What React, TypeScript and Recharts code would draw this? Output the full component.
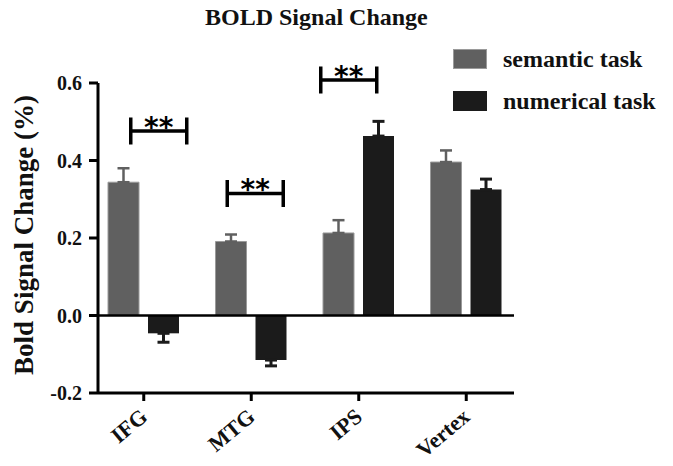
import React from "react";
import { BarChart, Bar, XAxis, YAxis, ErrorBar, ReferenceLine, ReferenceDot, Label } from "recharts";

// values (% BOLD change, mean and one-sided SE)
const regions = ["IFG", "MTG", "IPS", "Vertex"];
const semantic = [0.344, 0.191, 0.213, 0.396];
const semanticSE = [0.036, 0.018, 0.033, 0.030];
const numerical = [-0.046, -0.115, 0.463, 0.325];
const numericalSE = [0.023, 0.015, 0.038, 0.027];
// height of the significance bracket per region (null = none)
const sigLevel = [0.476, 0.315, 0.608, null];
const yTicks = [-0.2, 0, 0.2, 0.4, 0.6];

const SERIF = '"Liberation Serif", "Times New Roman", serif';
const SEM_COLOR = "#606060";
const NUM_COLOR = "#1b1b1b";

// only the outward side of each error bar is drawn
const oneSided = (v: number, e: number) => (v >= 0 ? [0, e] : [e, 0]);

const data = regions.map((r, i) => ({
  region: r,
  semantic: semantic[i],
  semanticErr: oneSided(semantic[i], semanticSE[i]),
  numerical: numerical[i],
  numericalErr: oneSided(numerical[i], numericalSE[i]),
}));

// bracket is nudged sideways a little per region, as in the figure
const bracketDx: Record<string, number> = { IFG: 15, MTG: 4, IPS: -10 };

const Bracket = (props: any) => {
  const { cx, cy, region } = props;
  const x = cx + (bracketDx[region] ?? 0);
  const hw = 28;
  const hh = 13.5;
  return (
    <g>
      <path
        d={`M${x - hw},${cy - hh}V${cy + hh}M${x - hw},${cy}H${x + hw}M${x + hw},${cy - hh}V${cy + hh}`}
        stroke="#000"
        strokeWidth={3.5}
        fill="none"
      />
      <text x={x} y={cy + 6} textAnchor="middle" fontFamily='"DejaVu Sans", sans-serif' fontWeight="bold" fontSize={28} fill="#000">
        **
      </text>
    </g>
  );
};

const XTick = (props: any) => {
  const { x, y, payload } = props;
  const tx = x + 5;
  const ty = y + 16;
  return (
    <text
      x={tx}
      y={ty}
      transform={`rotate(-40, ${tx}, ${ty})`}
      textAnchor="end"
      fontFamily={SERIF}
      fontWeight="bold"
      fontSize={22}
      fill="#111"
    >
      {payload.value}
    </text>
  );
};

const YTick = (props: any) => {
  const { x, y, payload } = props;
  return (
    <text x={x} y={y + 7} textAnchor="end" fontFamily={SERIF} fontWeight="bold" fontSize={20} fill="#111">
      {payload.value.toFixed(1)}
    </text>
  );
};

const YTitle = (props: any) => {
  const { viewBox } = props;
  const cy = viewBox.y + viewBox.height / 2 - 3;
  return (
    <text
      x={33}
      y={cy}
      transform={`rotate(-90, 33, ${cy})`}
      textAnchor="middle"
      fontFamily={SERIF}
      fontWeight="bold"
      fontSize={27}
      fill="#111"
    >
      Bold Signal Change (%)
    </text>
  );
};

const legendItems = [
  { name: "semantic task", color: SEM_COLOR, border: "#9a9a9a" },
  { name: "numerical task", color: NUM_COLOR, border: NUM_COLOR },
];

export default function App() {
  return (
    <div style={{ position: "absolute", left: 0, top: 0, width: 673, height: 466, background: "#fff" }}>
      <div
        style={{
          position: "absolute",
          left: 205,
          top: 2,
          fontFamily: SERIF,
          fontWeight: "bold",
          fontSize: 24,
          lineHeight: "30px",
          color: "#111",
          whiteSpace: "nowrap",
        }}
      >
        BOLD Signal Change
      </div>
      <BarChart
        width={673}
        height={466}
        data={data}
        margin={{ top: 83, right: 159, bottom: 0, left: 0 }}
        barSize={31}
        barGap={9}
      >
        <XAxis
          dataKey="region"
          height={73}
          padding={{ left: -8, right: -6 }}
          axisLine={{ stroke: "#000", strokeWidth: 3 }}
          tickLine={{ stroke: "#000", strokeWidth: 3 }}
          tickSize={8}
          tick={<XTick />}
          interval={0}
        />
        <YAxis
          width={98}
          domain={[-0.2, 0.6]}
          ticks={yTicks}
          axisLine={{ stroke: "#000", strokeWidth: 3 }}
          tickLine={{ stroke: "#000", strokeWidth: 3 }}
          tickSize={9}
          tickMargin={7}
          tick={<YTick />}
        >
          <Label content={<YTitle />} />
        </YAxis>
        <ReferenceLine y={0} stroke="#000" strokeWidth={2.5} />
        <Bar dataKey="semantic" fill={SEM_COLOR} stroke="#9a9a9a" strokeWidth={1} isAnimationActive={false}>
          <ErrorBar dataKey="semanticErr" width={6} stroke={SEM_COLOR} strokeWidth={2.5} isAnimationActive={false} />
        </Bar>
        <Bar dataKey="numerical" fill={NUM_COLOR} isAnimationActive={false}>
          <ErrorBar dataKey="numericalErr" width={6} stroke={NUM_COLOR} strokeWidth={3} isAnimationActive={false} />
        </Bar>
        {regions.map((r, i) =>
          sigLevel[i] == null ? null : (
            <ReferenceDot
              key={r}
              x={r}
              y={sigLevel[i] as number}
              ifOverflow="visible"
              shape={(p: any) => <Bracket {...p} region={r} />}
            />
          )
        )}
      </BarChart>
      {legendItems.map((it, i) => (
        <div key={it.name} style={{ position: "absolute", left: 453, top: 49 + i * 41.5, height: 20, display: "flex", alignItems: "center" }}>
          <div style={{ width: 32, height: 18, background: it.color, border: `1px solid ${it.border}` }} />
          <span
            style={{
              marginLeft: 16,
              fontFamily: SERIF,
              fontWeight: "bold",
              fontSize: 24,
              lineHeight: "20px",
              color: "#111",
              whiteSpace: "nowrap",
            }}
          >
            {it.name}
          </span>
        </div>
      ))}
    </div>
  );
}
